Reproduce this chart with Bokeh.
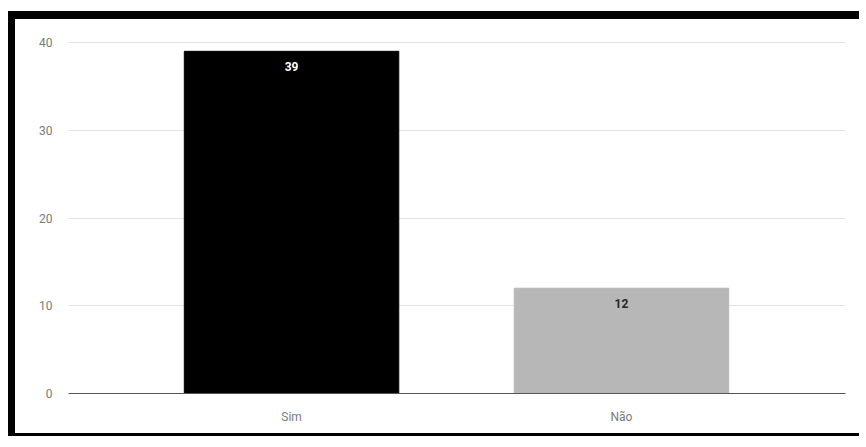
from bokeh.plotting import figure
from bokeh.models import ColumnDataSource, Range1d, FixedTicker, LabelSet
from bokeh.core.properties import value
from bokeh.embed import file_html
from bokeh.resources import INLINE

# Survey answers
categories = ["Sim", "Não"]
counts = [39, 12]
bar_colors = ["#000000", "#b7b7b7"]
label_colors = ["#ffffff", "#262626"]
y_ticks = [0, 10, 20, 30, 40]

xs = list(range(len(categories)))
source = ColumnDataSource(dict(
    x=xs,
    count=counts,
    color=bar_colors,
    label=[str(c) for c in counts],
    label_color=label_colors,
))

p = figure(
    width=851, height=425,
    x_range=Range1d(-0.676, 1.679),
    y_range=Range1d(0, 40.12),
    output_backend="svg",
    toolbar_location=None,
    min_border_left=53, min_border_right=21,
    min_border_top=22, min_border_bottom=51,
    styles={
        "margin-left": "8px",
        "margin-top": "11px",
        "border-left": "7px solid black",
        "border-top": "8px solid black",
        "border-bottom": "3px solid black",
    },
)
p.outline_line_color = None
p.background_fill_color = "white"
p.border_fill_color = "white"

p.vbar(x="x", top="count", width=0.65, color="color", source=source)

labels = LabelSet(
    x="x", y="count", text="label", source=source,
    text_align="center", text_baseline="middle", y_offset=-15,
    text_color="label_color", text_font_size="12px",
    text_font=value("Roboto"), text_font_style="bold",
)
p.add_layout(labels)

# axes
p.xaxis.ticker = FixedTicker(ticks=xs)
p.xaxis.major_label_overrides = {i: c for i, c in zip(xs, categories)}
p.xaxis.axis_line_color = "#555555"
p.xaxis.axis_line_width = 1
p.xaxis.major_tick_line_color = None
p.xaxis.minor_tick_line_color = None
p.xaxis.major_label_standoff = 10
p.xaxis.major_label_text_color = "#7a7a7a"
p.xaxis.major_label_text_font = "Roboto"
p.xaxis.major_label_text_font_size = "12px"

p.yaxis.ticker = FixedTicker(ticks=y_ticks)
p.yaxis.axis_line_color = None
p.yaxis.major_tick_line_color = None
p.yaxis.minor_tick_line_color = None
p.yaxis.major_label_standoff = 10
p.yaxis.major_label_text_color = "#7a7a7a"
p.yaxis.major_label_text_font = "Roboto"
p.yaxis.major_label_text_font_size = "12px"

p.xgrid.grid_line_color = None
p.ygrid.grid_line_color = "#e3e3e3"
p.ygrid.grid_line_width = 1

open("out.html", "w").write(file_html(p, INLINE))
